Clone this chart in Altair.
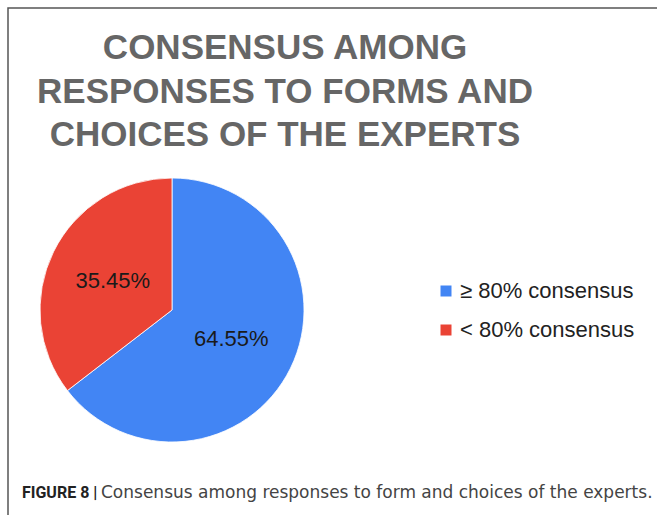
import altair as alt
import pandas as pd

categories = ["≥ 80% consensus", "< 80% consensus"]
values = [64.55, 35.45]
value_labels = ["64.55%", "35.45%"]
slice_order = [0, 1]
colors = ["#4285F4", "#EA4335"]

title_lines = ["CONSENSUS AMONG", "RESPONSES TO FORMS AND", "CHOICES OF THE EXPERTS"]
caption_bold = "FIGURE 8 |"
caption_text = "Consensus among responses to form and choices of the experts."

df = pd.DataFrame({"category": categories, "value": values,
                   "label": value_labels, "order": slice_order})
one = pd.DataFrame({"k": [0]})

cx, cy = 172, 310

pie = alt.Chart(df).mark_arc(outerRadius=132, stroke="white", strokeWidth=0.8).encode(
    theta=alt.Theta("value:Q", stack=True),
    order=alt.Order("order:Q", sort="ascending"),
    color=alt.Color(
        "category:N",
        scale=alt.Scale(domain=categories, range=colors),
        legend=alt.Legend(
            title=None, orient="none", legendX=435, legendY=280,
            symbolType="square", symbolSize=121, symbolStrokeWidth=0,
            labelFontSize=22, labelFont="Liberation Sans", labelColor="#222",
            labelOffset=3, rowPadding=17, padding=0, labelLimit=400,
        ),
    ),
    x=alt.value(cx), y=alt.value(cy),
)

pie_text = alt.Chart(df).mark_text(radius=66, fontSize=22, font="Liberation Sans",
                                   color="#1a1a1a").encode(
    theta=alt.Theta("value:Q", stack=True),
    order=alt.Order("order:Q", sort="ascending"),
    text="label:N",
    x=alt.value(cx), y=alt.value(cy),
)

title = alt.Chart(one).mark_text(
    text=title_lines, lineHeight=43.5, fontSize=35, font="Liberation Sans",
    fontWeight="bold", color="#666666", align="center", baseline="alphabetic",
).encode(x=alt.value(285), y=alt.value(59))

cap1 = alt.Chart(one).mark_text(
    text=caption_bold, fontSize=16, font="Roboto", fontWeight="bold",
    color="#222", align="left", baseline="alphabetic",
).encode(x=alt.value(22), y=alt.value(498))

cap2 = alt.Chart(one).mark_text(
    text=caption_text, fontSize=17, font="DejaVu Sans",
    color="#444", align="left", baseline="alphabetic",
).encode(x=alt.value(101), y=alt.value(498))

frame = alt.Chart(one).mark_rect(filled=False, stroke="#555", strokeWidth=1.5).encode(
    x=alt.value(8), y=alt.value(8), x2=alt.value(720), y2=alt.value(620)
)

chart = alt.layer(frame, pie, pie_text, title, cap1, cap2).properties(
    width=657, height=515, padding=0, autosize=alt.AutoSizeParams(type="none"),
    background="white",
).configure_view(stroke=None)

chart.save("out.html", embed_options={"renderer": "svg", "actions": False})
